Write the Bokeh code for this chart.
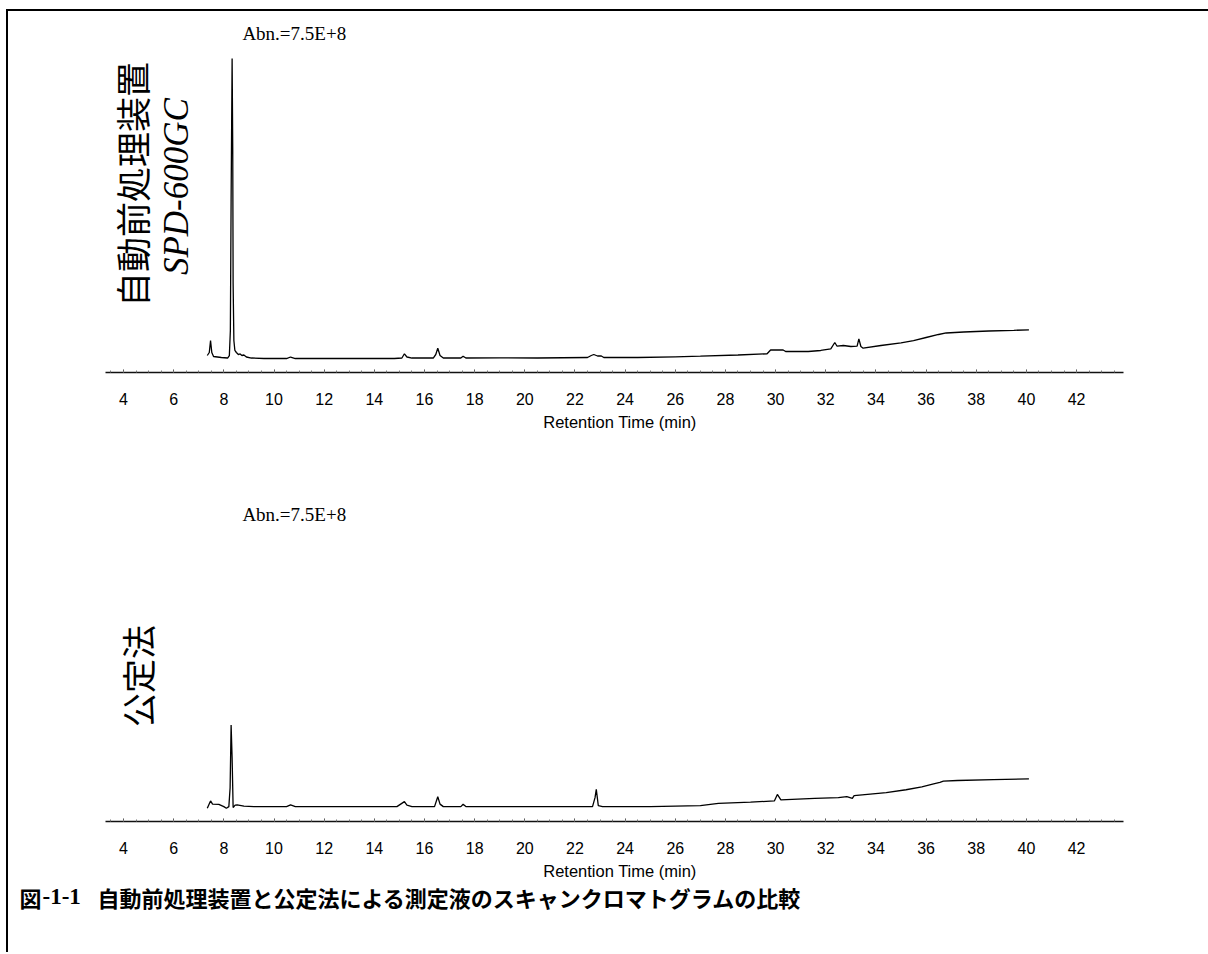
import math
from bokeh.plotting import figure
from bokeh.layouts import column
from bokeh.models import Range1d, SingleIntervalTicker, Label
from bokeh.embed import file_html
from bokeh.resources import INLINE

# ---------------- data (abundance in units of 1E+6 counts) ----------------
top_time = [7.34, 7.42, 7.47, 7.52, 7.59, 7.9, 8.15, 8.22, 8.26, 8.29, 8.33, 8.355, 8.37, 8.40, 8.44,
            8.50, 8.58, 8.65, 8.72, 8.80, 8.9, 9.1, 9.6, 10.5, 10.66, 10.85, 12.0, 13.5, 14.8, 15.1,
            15.2, 15.3, 15.5, 16.35, 16.45, 16.53, 16.62, 16.75, 17.45, 17.54, 17.65, 19.0, 20.5,
            22.5, 22.65, 22.75, 22.9, 23.05, 23.15, 24.5, 26.0, 27.0, 28.5, 29.66, 29.8, 30.3, 30.4,
            31.3, 31.8, 32.2, 32.36, 32.45, 32.7, 33.0, 33.25, 33.32, 33.4, 33.49, 34.2, 35.0, 35.5,
            36.0, 36.5, 36.8, 37.5, 38.5, 39.5, 40.1]
top_abund = [40.6, 47.8, 76.4, 47.8, 38.2, 35.8, 34.6, 40.6, 100, 411, 750, 530, 212.6, 76.4, 52.6,
             47.8, 43.0, 44.2, 40.6, 41.8, 37.0, 34.6, 33.4, 33.4, 37.0, 33.4, 33.4, 33.4, 33.4, 34.6,
             44.7, 37.0, 34.6, 34.6, 43.0, 58.0, 40.6, 34.6, 34.6, 38.9, 34.6, 35.1, 34.6,
             35.8, 40.6, 43.0, 39.4, 39.4, 35.8, 35.8, 37.5, 38.9, 41.8, 44.7, 53.8, 53.8, 50.2,
             50.2, 52.6, 56.6, 71.7, 62.8, 64.5, 62.1, 62.8, 80.5, 62.1, 58.0, 64.5, 71.0, 76.4,
             83.6, 90.8, 94.4, 96.8, 99.1, 100.8, 102.0]

bot_time = [7.34, 7.42, 7.47, 7.55, 7.8, 8.0, 8.1, 8.2, 8.25, 8.29, 8.33, 8.37, 8.45, 8.53, 8.8,
            9.2, 10.5, 10.66, 10.85, 14.9, 15.2, 15.3, 15.5, 16.4, 16.53, 16.62, 16.75, 17.45,
            17.54, 17.65, 22.7, 22.8, 22.85, 22.93, 23.1, 25.0, 27.0, 27.72, 29.0, 29.95, 30.07,
            30.21, 31.56, 32.5, 32.84, 33.06, 33.13, 34.41, 35.2, 35.83, 36.3, 36.55, 36.69,
            37.25, 38.68, 40.1]
bot_abund = [35.1, 47.5, 54.7, 46.2, 45.7, 39.6, 35.1, 39.6, 89.8, 257.0, 169.0, 37.0, 43.6, 44.1, 40.9,
             39.6, 39.6, 44.1, 39.6, 39.6, 52.8, 43.6, 39.6, 39.6, 66.0, 46.2, 39.6, 39.6,
             45.7, 39.6, 39.6, 63.4, 85.3, 42.3, 39.6, 39.6, 42.3, 48.3, 51.5, 54.7, 72.1,
             57.3, 61.5, 63.4, 66.0, 61.5, 68.7, 76.6, 84.5, 92.4, 100.4, 104.3, 107.5,
             109.1, 111.7, 113.6]

top_names = ["自動前処理装置", "SPD-600GC"]
bot_names = ["公定法"]
abn_text = "Abn.=7.5E+8"
x_title = "Retention Time (min)"
caption_fig = "図"
caption_num = "-1-1"
caption_text = "自動前処理装置と公定法による測定液のスキャンクロマトグラムの比較"

# ---------------- layout ----------------
W = 1200
XS, XE = -0.586, 47.26
AX_BOUNDS = (3.28, 43.87)
LABEL_PAD = "\u00a0" * 5   # nudges the centred axis title to the right


def make_fig(height, frame_h, ymax):
    p = figure(width=W, height=height, x_range=Range1d(XS, XE), y_range=Range1d(0, ymax),
               output_backend="svg", toolbar_location=None, y_axis_location=None,
               min_border_left=0, min_border_right=0, min_border_top=0,
               min_border_bottom=height - frame_h)
    p.outline_line_color = None
    p.xgrid.visible = False
    p.ygrid.visible = False
    p.background_fill_color = "white"
    p.border_fill_color = "white"
    ax = p.xaxis[0]
    ax.ticker = SingleIntervalTicker(interval=2, num_minor_ticks=4)
    ax.bounds = AX_BOUNDS
    ax.axis_line_width = 1.6
    ax.axis_line_color = "#111111"
    ax.major_tick_in = 3
    ax.major_tick_out = 0
    ax.minor_tick_in = 2
    ax.minor_tick_out = 0
    ax.major_tick_line_color = "#444444"
    ax.minor_tick_line_color = "#777777"
    ax.major_label_text_font = "Liberation Sans"
    ax.major_label_text_font_size = "16px"
    ax.major_label_text_color = "black"
    ax.major_label_standoff = 20
    ax.axis_label = LABEL_PAD + x_title
    ax.axis_label_text_font = "Liberation Sans"
    ax.axis_label_text_font_size = "16.5px"
    ax.axis_label_text_font_style = "normal"
    ax.axis_label_text_color = "black"
    ax.axis_label_standoff = 5
    return p


# top panel: frame page y 11..372
p1 = make_fig(429, 361, 862.4)
p1.line(top_time, top_abund, line_color="black", line_width=1.3)
p1.add_layout(Label(x=4.30, y=449, text=top_names[0], angle=math.pi / 2,
                    text_align="center", text_baseline="middle",
                    text_font="Noto Sans CJK JP", text_font_size="35px", text_color="black"))
p1.add_layout(Label(x=6.10, y=444, text=top_names[1], angle=math.pi / 2,
                    text_align="center", text_baseline="middle",
                    text_font="Liberation Serif", text_font_style="italic",
                    text_font_size="35px", text_color="black"))
p1.add_layout(Label(x=8.74, y=810, text=abn_text, text_align="left", text_baseline="middle",
                    text_font="Liberation Serif", text_font_size="19px", text_color="black"))

# bottom panel: frame page y 440..824
p2 = make_fig(442, 384, 1014.0)
p2.line(bot_time, bot_abund, line_color="black", line_width=1.3)
p2.add_layout(Label(x=4.55, y=387, text=bot_names[0], angle=math.pi / 2,
                    text_align="center", text_baseline="middle",
                    text_font="Noto Sans CJK JP", text_font_size="34px", text_color="black"))
p2.add_layout(Label(x=8.74, y=816, text=abn_text, text_align="left", text_baseline="middle",
                    text_font="Liberation Serif", text_font_size="19px", text_color="black"))

# caption strip (page y 882..952), pixel units
p3 = figure(width=W, height=70, x_range=Range1d(0, W), y_range=Range1d(0, 70),
            output_backend="svg", toolbar_location=None,
            x_axis_location=None, y_axis_location=None,
            min_border_left=0, min_border_right=0, min_border_top=0, min_border_bottom=0)
p3.outline_line_color = None
p3.xgrid.visible = False
p3.ygrid.visible = False
cap_y = 56
p3.add_layout(Label(x=11, y=cap_y, text=caption_fig, text_align="left", text_baseline="middle",
                    text_font="Noto Sans CJK JP", text_font_style="bold",
                    text_font_size="22px", text_color="black"))
p3.add_layout(Label(x=34, y=cap_y, text=caption_num, text_align="left", text_baseline="middle",
                    text_font="Liberation Serif", text_font_style="bold",
                    text_font_size="23px", text_color="black"))
p3.add_layout(Label(x=89, y=cap_y, text=caption_text, text_align="left", text_baseline="middle",
                    text_font="Noto Sans CJK JP", text_font_style="bold",
                    text_font_size="22px", text_color="black"))

layout = column(p1, p2, p3, spacing=0,
                styles={"border-left": "2px solid black", "border-top": "2px solid black",
                        "margin-left": "6px", "margin-top": "9px"})

open("out.html", "w").write(file_html(layout, INLINE))
